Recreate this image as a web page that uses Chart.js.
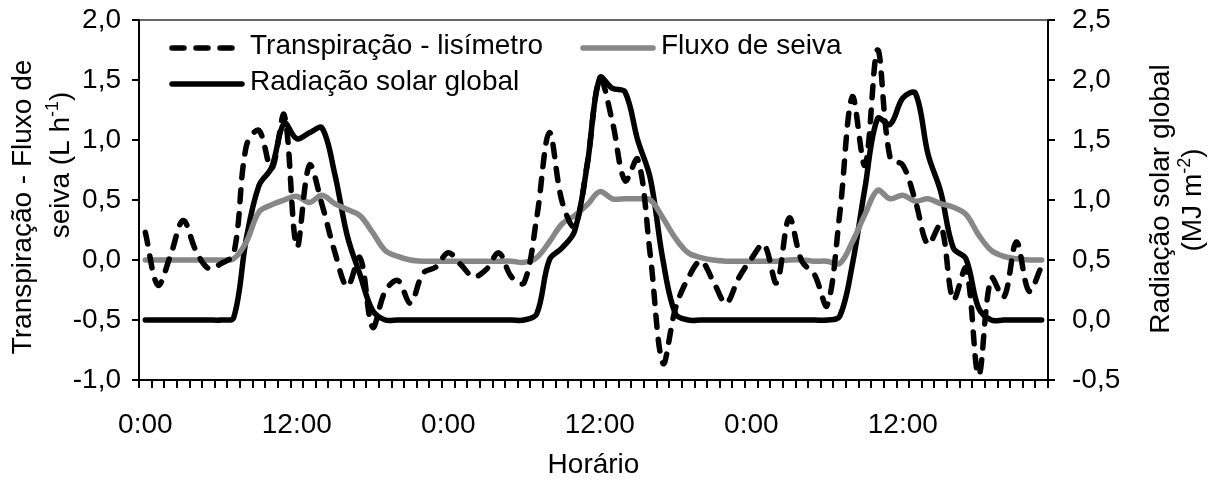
<!DOCTYPE html>
<html lang="pt-BR">
<head>
<meta charset="utf-8">
<title>Transpiração, fluxo de seiva e radiação solar global</title>
<script src="https://cdn.jsdelivr.net/npm/chart.js@4.4.1/dist/chart.umd.min.js"></script>
<style>
  html, body { margin: 0; padding: 0; background: #fff; }
  #wrap { width: 1214px; height: 489px; position: relative; }
</style>
</head>
<body>
<div id="wrap"><canvas id="grafico"></canvas></div>
<script>
// Horário - uma categoria por hora, três dias seguidos
const horario = [
  '0:00', '1:00', '2:00', '3:00', '4:00', '5:00', '6:00', '7:00', '8:00', '9:00', '10:00', '11:00',
  '12:00', '13:00', '14:00', '15:00', '16:00', '17:00', '18:00', '19:00', '20:00', '21:00', '22:00', '23:00',
  '0:00', '1:00', '2:00', '3:00', '4:00', '5:00', '6:00', '7:00', '8:00', '9:00', '10:00', '11:00',
  '12:00', '13:00', '14:00', '15:00', '16:00', '17:00', '18:00', '19:00', '20:00', '21:00', '22:00', '23:00',
  '0:00', '1:00', '2:00', '3:00', '4:00', '5:00', '6:00', '7:00', '8:00', '9:00', '10:00', '11:00',
  '12:00', '13:00', '14:00', '15:00', '16:00', '17:00', '18:00', '19:00', '20:00', '21:00', '22:00', '23:00'
];
const rotulosX = ['0:00', '12:00'];

// Transpiração - lisímetro (L h-1)
const transpiracao = [
  0.23, -0.21, 0.04, 0.33, 0.08, -0.07, -0.03, 0.05,
  0.95, 1.08, 0.76, 1.21, 0.11, 0.79, 0.46, 0.07,
  -0.22, 0.02, -0.56, -0.26, -0.17, -0.36, -0.11, -0.06,
  0.06, -0.04, -0.14, -0.08, 0.06, -0.14, -0.19, 0.35,
  1.06, 0.49, 0.28, 0.80, 1.51, 1.15, 0.66, 0.84,
  0.04, -0.86, -0.40, -0.15, -0.01, -0.18, -0.36, -0.15,
  0.01, 0.13, -0.19, 0.35, -0.01, -0.12, -0.38, 0.38,
  1.36, 0.79, 1.75, 0.85, 0.79, 0.49, 0.13, 0.29,
  -0.33, -0.07, -0.96, -0.15, -0.31, 0.15, -0.26, -0.05
];

// Fluxo de seiva (L h-1)
const fluxoSeiva = [
  0.00, 0.00, 0.00, 0.00, 0.00, 0.00, 0.00, 0.01,
  0.15, 0.40, 0.46, 0.50, 0.53, 0.48, 0.54, 0.47,
  0.42, 0.37, 0.23, 0.08, 0.03, 0.00, -0.01, -0.01,
  -0.01, -0.01, -0.01, -0.01, -0.01, -0.01, -0.02, 0.02,
  0.15, 0.30, 0.37, 0.46, 0.57, 0.51, 0.51, 0.51,
  0.50, 0.35, 0.18, 0.06, 0.02, 0.00, -0.01, -0.01,
  -0.01, -0.01, -0.01, 0.00, 0.00, -0.01, -0.01, -0.03,
  0.15, 0.38, 0.58, 0.51, 0.54, 0.49, 0.51, 0.47,
  0.44, 0.38, 0.21, 0.08, 0.03, 0.01, 0.00, 0.00
];

// Radiação solar global (MJ m-2), eixo secundário
const radiacao = [
  0.00, 0.00, 0.00, 0.00, 0.00, 0.00, 0.00, 0.02,
  0.68, 1.12, 1.27, 1.64, 1.51, 1.56, 1.60, 1.22,
  0.70, 0.38, 0.08, 0.00, 0.00, 0.00, 0.00, 0.00,
  0.00, 0.00, 0.00, 0.00, 0.00, 0.00, 0.00, 0.05,
  0.50, 0.60, 0.74, 1.29, 2.02, 1.93, 1.90, 1.50,
  1.18, 0.50, 0.05, 0.00, 0.00, 0.00, 0.00, 0.00,
  0.00, 0.00, 0.00, 0.00, 0.00, 0.00, 0.00, 0.03,
  0.46, 1.10, 1.68, 1.63, 1.85, 1.89, 1.38, 1.07,
  0.60, 0.51, 0.10, 0.00, 0.00, 0.00, 0.00, 0.00
];

const ticksEsq = [-1.0, -0.5, 0.0, 0.5, 1.0, 1.5, 2.0];
const ticksDir = [-0.5, 0.0, 0.5, 1.0, 1.5, 2.0, 2.5];

const FONTE = "'Liberation Sans', Arial, sans-serif";
Chart.defaults.font.family = FONTE;
Chart.defaults.font.size = 28;
Chart.defaults.color = '#000';

const virgula = v => Number(v).toFixed(1).replace('.', ',');

// texto com partes sobrescritas, centrado em (cx, cy), girado de ang
function textoRotacionado(ctx, partes, cx, cy, ang) {
  const fonte = '28px ' + FONTE;
  const fonteSup = '18px ' + FONTE;
  ctx.save();
  ctx.translate(cx, cy);
  ctx.rotate(ang);
  ctx.fillStyle = '#000';
  ctx.textBaseline = 'middle';
  ctx.textAlign = 'left';
  const larg = partes.map(p => {
    ctx.font = p.sup ? fonteSup : fonte;
    return ctx.measureText(p.t).width;
  });
  let x = -larg.reduce((a, b) => a + b, 0) / 2;
  partes.forEach((p, i) => {
    ctx.font = p.sup ? fonteSup : fonte;
    ctx.fillText(p.t, x, p.sup ? -8 : 0);
    x += larg[i];
  });
  ctx.restore();
}

// sem folga extra em volta dos eixos: a área do gráfico fica onde o layout manda
function semFolga(s) {
  s.paddingTop = 0;
  s.paddingBottom = 0;
  s.paddingLeft = 0;
  s.paddingRight = 0;
}

const extras = {
  id: 'extras',
  afterDraw(chart) {
    const ctx = chart.ctx;
    const a = chart.chartArea;
    const meio = (a.top + a.bottom) / 2;

    // borda superior da área do gráfico
    ctx.save();
    ctx.strokeStyle = '#333';
    ctx.lineWidth = 1.5;
    ctx.beginPath();
    ctx.moveTo(a.left, a.top);
    ctx.lineTo(a.right, a.top);
    ctx.stroke();
    ctx.restore();

    // títulos dos eixos verticais
    textoRotacionado(ctx, [{ t: 'Transpiração - Fluxo de' }], a.left - 116, meio + 7, -Math.PI / 2);
    textoRotacionado(ctx, [{ t: 'seiva (L h' }, { t: '-1', sup: true }, { t: ')' }], a.left - 78, meio - 35, -Math.PI / 2);
    textoRotacionado(ctx, [{ t: 'Radiação solar global' }], a.right + 113, meio - 1, -Math.PI / 2);
    textoRotacionado(ctx, [{ t: '(MJ m' }, { t: '-2', sup: true }, { t: ')' }], a.right + 145, meio, -Math.PI / 2);

    // legenda dentro da área do gráfico
    const itens = [
      { ds: 0, x: a.left + 33, y: a.top + 28 },
      { ds: 1, x: a.left + 444, y: a.top + 28 },
      { ds: 2, x: a.left + 33, y: a.top + 64 }
    ];
    itens.forEach(it => {
      const d = chart.data.datasets[it.ds];
      ctx.save();
      ctx.strokeStyle = d.borderColor;
      ctx.lineWidth = d.borderWidth;
      ctx.lineCap = d.borderCapStyle || 'butt';
      ctx.setLineDash(d.borderDash || []);
      ctx.beginPath();
      ctx.moveTo(it.x, it.y);
      ctx.lineTo(it.x + 70, it.y);
      ctx.stroke();
      ctx.setLineDash([]);
      ctx.fillStyle = '#000';
      ctx.font = '28px ' + FONTE;
      ctx.textBaseline = 'middle';
      ctx.textAlign = 'left';
      ctx.fillText(d.label, it.x + 78, it.y - 2);
      ctx.restore();
    });
  }
};

new Chart(document.getElementById('grafico'), {
  type: 'line',
  data: {
    labels: horario,
    datasets: [
      {
        label: 'Transpiração - lisímetro',
        data: transpiracao,
        yAxisID: 'y',
        borderColor: '#000',
        borderWidth: 5.5,
        borderDash: [12, 12],
        borderCapStyle: 'round',
        borderJoinStyle: 'round',
        tension: 0.35,
        pointRadius: 0,
        fill: false
      },
      {
        label: 'Fluxo de seiva',
        data: fluxoSeiva,
        yAxisID: 'y',
        borderColor: '#878787',
        borderWidth: 5.5,
        borderCapStyle: 'round',
        borderJoinStyle: 'round',
        tension: 0.35,
        pointRadius: 0,
        fill: false
      },
      {
        label: 'Radiação solar global',
        data: radiacao,
        yAxisID: 'y2',
        borderColor: '#000',
        borderWidth: 5.5,
        borderCapStyle: 'round',
        borderJoinStyle: 'round',
        tension: 0.35,
        pointRadius: 0,
        fill: false
      }
    ]
  },
  options: {
    responsive: true,
    maintainAspectRatio: false,
    animation: false,
    layout: { padding: { top: 20, left: 0, right: 0, bottom: 0 } },
    plugins: {
      legend: { display: false },
      tooltip: { enabled: false }
    },
    scales: {
      x: {
        type: 'category',
        offset: true,
        afterFit: s => { s.height = 109; semFolga(s); },
        border: { color: '#000', width: 2 },
        grid: { offset: true, drawOnChartArea: false, color: '#000', lineWidth: 2, tickLength: 8 },
        ticks: {
          autoSkip: false,
          maxRotation: 0,
          minRotation: 0,
          padding: 20,
          callback: (v, i) => (rotulosX.includes(horario[i]) ? horario[i] : '')
        },
        title: { display: true, text: 'Horário', padding: { top: 0, bottom: 7 } }
      },
      y: {
        position: 'left',
        min: ticksEsq[0],
        max: ticksEsq[ticksEsq.length - 1],
        afterFit: s => { s.width = 139; semFolga(s); },
        afterBuildTicks: s => { s.ticks = ticksEsq.map(v => ({ value: v })); },
        border: { color: '#000', width: 2 },
        grid: { drawOnChartArea: false, color: '#000', lineWidth: 2, tickLength: 7 },
        ticks: { padding: 11, callback: virgula }
      },
      y2: {
        position: 'right',
        min: ticksDir[0],
        max: ticksDir[ticksDir.length - 1],
        afterFit: s => { s.width = 166; semFolga(s); },
        afterBuildTicks: s => { s.ticks = ticksDir.map(v => ({ value: v })); },
        border: { color: '#000', width: 2 },
        grid: { drawOnChartArea: false, color: '#000', lineWidth: 2, tickLength: 7 },
        ticks: { padding: 17, callback: virgula }
      }
    }
  },
  plugins: [extras]
});
</script>
</body>
</html>
